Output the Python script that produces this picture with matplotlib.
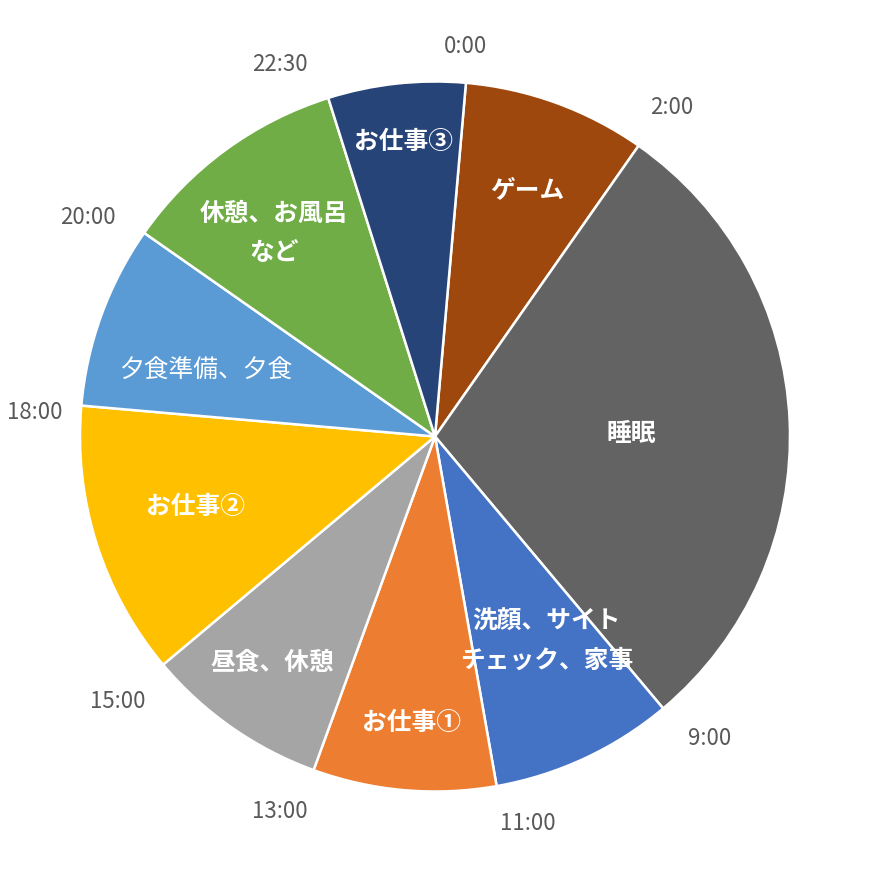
import numpy as np
import matplotlib
matplotlib.use("Agg")
import matplotlib.pyplot as plt
from matplotlib.transforms import offset_copy

plt.rcParams['font.family'] = ['Noto Sans CJK JP', 'DejaVu Sans']

# Data (hours, clockwise from 0:00)
labels = ["ゲーム", "睡眠", "洗顔、サイト\nチェック、家事", "お仕事①", "昼食、休憩",
          "お仕事②", "夕食準備、夕食", "休憩、お風呂\nなど", "お仕事③"]
hours = [2, 7, 2, 2, 2, 3, 2, 2.5, 1.5]
boundary_labels = ["0:00", "2:00", "9:00", "11:00", "13:00", "15:00", "18:00", "20:00", "22:30"]
colors = ["#9E480E", "#636363", "#4472C4", "#ED7D31", "#A5A5A5",
          "#FFC000", "#5B9BD5", "#70AD47", "#264478"]

# Style: label placement (radius fraction, angle nudge in degrees), weight
label_r = [0.744, 0.552, 0.651, 0.804, 0.779, 0.700, 0.673, 0.736, 0.840]
label_dang = [0.4, 0.9, -3.8, -0.2, 1.1, 1.7, -3.35, -1.75, 0.2]
label_bold = [True, True, True, True, True, True, False, True, True]
bnd_r = [1.102, 1.142, 1.150, 1.121, 1.143, 1.164, 1.129, 1.156, 1.135]
bnd_dang = [-0.6, 0.77, -2.32, -3.51, 2.46, 0.1, -1.57, -2.75, -5.1]

W, H = 869, 873
cx, cy, R = 435, 436.5, 355
fig = plt.figure(figsize=(W / 100, H / 100), dpi=100)
ax = fig.add_axes([0, 0, 1, 1])
ax.axis('off')

start_offset = 5.0  # degrees clockwise from 12 o'clock
ax.pie(hours, colors=colors, startangle=90 - start_offset, counterclock=False,
       radius=1.0, center=(0, 0),
       wedgeprops=dict(edgecolor='white', linewidth=1.8))
ax.set_aspect('equal')
ax.set_xlim(-cx / R, (W - cx) / R)
ax.set_ylim(-(H - cy) / R, cy / R)

tr_lab = offset_copy(ax.transData, fig=fig, x=0, y=-2.5, units='dots')

total = sum(hours)
cum = np.concatenate([[0], np.cumsum(hours)])
# boundary labels (clock angle measured clockwise from top)
for i, txt in enumerate(boundary_labels):
    a = np.deg2rad(start_offset + cum[i] / total * 360 + bnd_dang[i])
    r = bnd_r[i]
    ax.text(r * np.sin(a), r * np.cos(a), txt, ha='center', va='center',
            fontsize=16, color='#595959')

# slice labels
for i, txt in enumerate(labels):
    mid = start_offset + (cum[i] + cum[i + 1]) / 2 / total * 360 + label_dang[i]
    a = np.deg2rad(mid)
    r = label_r[i]
    ax.text(r * np.sin(a), r * np.cos(a), txt, ha='center', va='center',
            fontsize=17.8, color='white', fontweight='bold' if label_bold[i] else 'normal',
            linespacing=1.78, transform=tr_lab)

fig.savefig("out.png", dpi=100)
